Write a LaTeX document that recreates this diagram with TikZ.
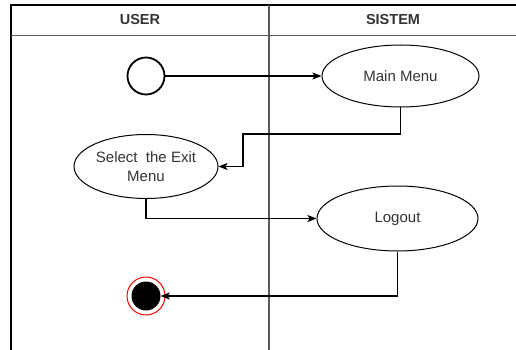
\documentclass[tikz,border=0pt]{standalone}
\usepackage{fontspec}
\setmainfont{Liberation Sans}
\usetikzlibrary{arrows.meta,shapes.geometric}
\definecolor{txt}{HTML}{333333}
\definecolor{lane}{HTML}{5A5A5A}
\begin{document}
\begin{tikzpicture}[x=1pt,y=-1pt,
  usecase/.style={ellipse,draw=black,line width=1pt,minimum width=#1,inner sep=0pt,text=txt,font=\fontsize{15}{19}\selectfont,align=center},
  flow/.style={draw=black,line width=1.1pt,-{Stealth[length=9pt,width=7pt,inset=2pt]}},
  lanehead/.style={font=\bfseries\fontsize{14.5}{17}\selectfont,text=txt}]
  \useasboundingbox (0,0) rectangle (516,350);
  % swimlane frame
  \draw[line width=1.2pt,black] (11,350) -- (11,5) -- (516,5);
  \draw[line width=1.5pt,lane] (11,35.5) -- (516,35.5);
  \draw[line width=1.8pt,lane] (269,5) -- (269,350);
  \node[lanehead] (huser) at (140,20) {USER};
  \node[lanehead] (hsys) at (393,20) {SISTEM};
  % activities
  \node[circle,draw=black,line width=1.8pt,minimum size=37pt,inner sep=0pt] (start) at (146,76) {};
  \node[usecase=157pt,minimum height=62pt] (main) at (400.5,76) {Main Menu};
  \node[usecase=144pt,minimum height=64pt] (sel) at (146,166.5) {Select\ \ the Exit\\Menu};
  \node[usecase=161pt,minimum height=65pt] (logout) at (397.5,218.5) {Logout};
  \node[circle,draw=red,line width=1pt,minimum size=38pt,inner sep=0pt] (stop) at (146,296) {};
  \node[circle,fill=black,minimum size=29pt,inner sep=0pt] (stopin) at (146,296) {};
  % control flow
  \draw[flow] (start) -- (main);
  \draw[flow] (main.south) |- (243,134) |- (sel.east);
  \draw[flow] (sel.south) |- (logout.west);
  \draw[flow] (logout.south) |- (stopin.east);
\end{tikzpicture}
\end{document}
